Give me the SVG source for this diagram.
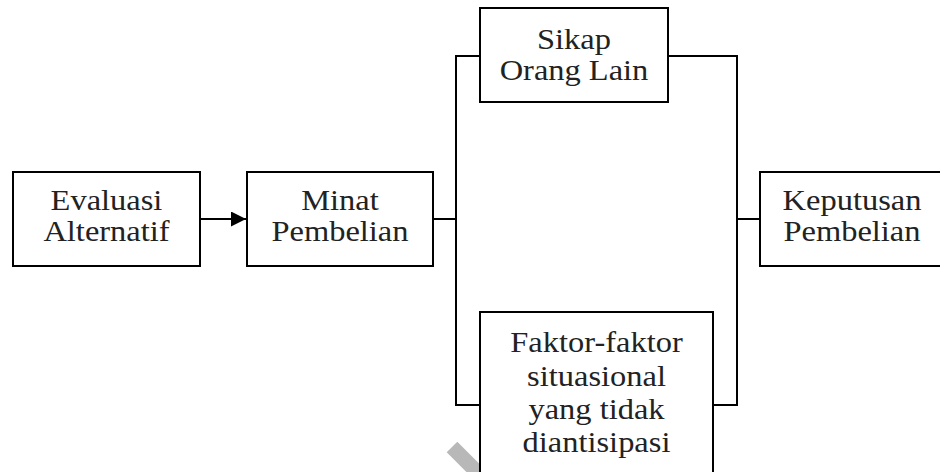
<svg xmlns="http://www.w3.org/2000/svg" width="940" height="472" viewBox="0 0 940 472">
<defs>
<style>
.box{fill:#fff;stroke:#000;stroke-width:2}
.ln{fill:none;stroke:#000;stroke-width:2}
.t{font-family:"Liberation Serif","Times New Roman",serif;font-size:29px;fill:#222;text-anchor:middle}
</style>
<marker id="ah" markerWidth="16" markerHeight="16" refX="15" refY="7.5" orient="auto" markerUnits="userSpaceOnUse">
<path d="M0,0 L15,7.5 L0,15 Z" fill="#000"/>
</marker>
</defs>
<rect width="940" height="472" fill="#fff"/>
<line x1="452" y1="447" x2="510" y2="505" stroke="#b8b8b8" stroke-width="15"/>
<g id="connectors">
<line class="ln" x1="200" y1="219" x2="246" y2="219" marker-end="url(#ah)"/>
<line class="ln" x1="433" y1="219" x2="456" y2="219"/>
<polyline class="ln" points="480,56 456,56 456,405 480,405"/>
<polyline class="ln" points="668,56 737,56 737,405 713,405"/>
<line class="ln" x1="737" y1="219" x2="760" y2="219"/>
</g>
<g id="evaluasi">
<rect class="box" x="13" y="172" width="187" height="94"/>
<g transform="translate(106.5,0) scale(1.12,1)"><text class="t" x="0" y="210">Evaluasi</text><text class="t" x="0" y="241">Alternatif</text></g>
</g>
<g id="minat">
<rect class="box" x="247" y="172" width="186" height="94"/>
<g transform="translate(340,0) scale(1.12,1)"><text class="t" x="0" y="210">Minat</text><text class="t" x="0" y="241">Pembelian</text></g>
</g>
<g id="sikap">
<rect class="box" x="480" y="8" width="188" height="94"/>
<g transform="translate(574,0) scale(1.12,1)"><text class="t" x="0" y="49">Sikap</text><text class="t" x="0" y="80">Orang Lain</text></g>
</g>
<g id="keputusan">
<rect class="box" x="760" y="172" width="190" height="94"/>
<g transform="translate(852,0) scale(1.12,1)"><text class="t" x="0" y="210">Keputusan</text><text class="t" x="0" y="241">Pembelian</text></g>
</g>
<g id="faktor">
<rect class="box" x="480" y="312" width="233" height="180"/>
<g transform="translate(596.5,0) scale(1.12,1)"><text class="t" x="0" y="352">Faktor-faktor</text><text class="t" x="0" y="386">situasional</text><text class="t" x="0" y="419">yang tidak</text><text class="t" x="0" y="452">diantisipasi</text></g>
</g>
</svg>
